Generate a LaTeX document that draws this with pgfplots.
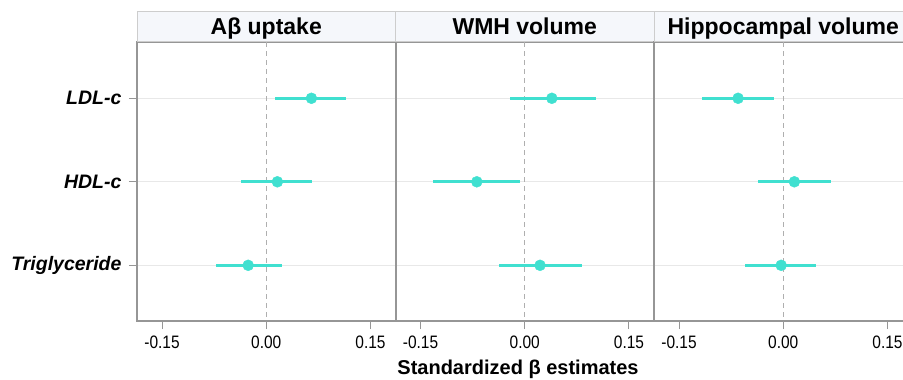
\documentclass[border=0pt]{standalone}
\usepackage{fontspec}
\setmainfont{Liberation Sans}
\newfontfamily\narrowfont[FakeStretch=0.86]{Liberation Sans}
\usepackage{pgfplots}
\pgfplotsset{compat=1.18}
\definecolor{turq}{RGB}{64,224,208}
\definecolor{framec}{RGB}{150,150,150}
\definecolor{gridc}{RGB}{232,232,232}
\definecolor{stripfill}{RGB}{245,247,251}
\definecolor{stripdraw}{RGB}{205,205,205}
\definecolor{zeroc}{RGB}{175,175,175}
\pgfplotsset{
  panel/.style={
    scale only axis, width=258.5pt, height=279pt,
    xmin=-0.186, xmax=0.186, ymin=0.326, ymax=3.667, y dir=reverse,
    xtick={-0.15,0,0.15},
    xticklabels={-0.15,0.00,0.15},
    ytick={1,2,3},
    axis line style={draw=framec, line width=2pt},
    tick style={draw=framec, line width=1pt},
    tick align=outside, major tick length=8pt,
    xtick pos=bottom, ytick pos=left,
    ymajorgrids, grid style={draw=gridc, line width=1pt},
    xticklabel style={font=\narrowfont\fontsize{18}{18}\selectfont, text=black, yshift=-3pt},
    title style={at={(0.5,1)}, anchor=south, yshift=-6pt, minimum width=258.5pt,
      minimum height=30.5pt, inner sep=0pt, text height=16.5pt, text depth=0pt,
      fill=stripfill, draw=stripdraw, line width=1pt,
      font=\bfseries\fontsize{23}{23}\selectfont},
  },
  est/.style={only marks, mark=*, mark size=5.5pt, color=turq,
    error bars/.cd, x dir=both, x explicit,
    error bar style={line width=3pt, color=turq}, error mark=none},
}
\begin{document}
\begin{tikzpicture}
\path[use as bounding box] (0,0) rectangle (903pt,-380pt);
% Panel 1
\begin{axis}[panel, at={(137pt,-321pt)}, anchor=south west,
  title={Aβ uptake},
  yticklabels={LDL-c,HDL-c,Triglyceride},
  yticklabel style={font=\bfseries\itshape\fontsize{19.5}{19.5}\selectfont, text=black, xshift=-4pt}]
\draw[zeroc, dashed, line width=1pt, dash pattern=on 5pt off 4pt] (axis cs:0,0.326) -- (axis cs:0,3.667);
\addplot[est] coordinates {
  (0.065,1) += (0.050,0) -= (0.052,0)
  (0.016,2) += (0.050,0) -= (0.052,0)
  (-0.026,3) += (0.049,0) -= (0.047,0)
};
\end{axis}
% Panel 2
\begin{axis}[panel, at={(395.5pt,-321pt)}, anchor=south west,
  title={WMH volume}, yticklabels={}, ytick style={draw=none}]
\draw[zeroc, dashed, line width=1pt, dash pattern=on 5pt off 4pt] (axis cs:0,0.326) -- (axis cs:0,3.667);
\addplot[est] coordinates {
  (0.039,1) += (0.063,0) -= (0.060,0)
  (-0.069,2) += (0.062,0) -= (0.063,0)
  (0.022,3) += (0.060,0) -= (0.059,0)
};
\end{axis}
% Panel 3
\begin{axis}[panel, at={(654pt,-321pt)}, anchor=south west,
  title={Hippocampal volume}, yticklabels={}, ytick style={draw=none}]
\draw[zeroc, dashed, line width=1pt, dash pattern=on 5pt off 4pt] (axis cs:0,0.326) -- (axis cs:0,3.667);
\addplot[est] coordinates {
  (-0.065,1) += (0.052,0) -= (0.052,0)
  (0.016,2) += (0.053,0) -= (0.053,0)
  (-0.003,3) += (0.050,0) -= (0.052,0)
};
\end{axis}
\node[font=\bfseries\fontsize{20}{20}\selectfont] at (518pt,-369pt) {Standardized β estimates};
\end{tikzpicture}
\end{document}
